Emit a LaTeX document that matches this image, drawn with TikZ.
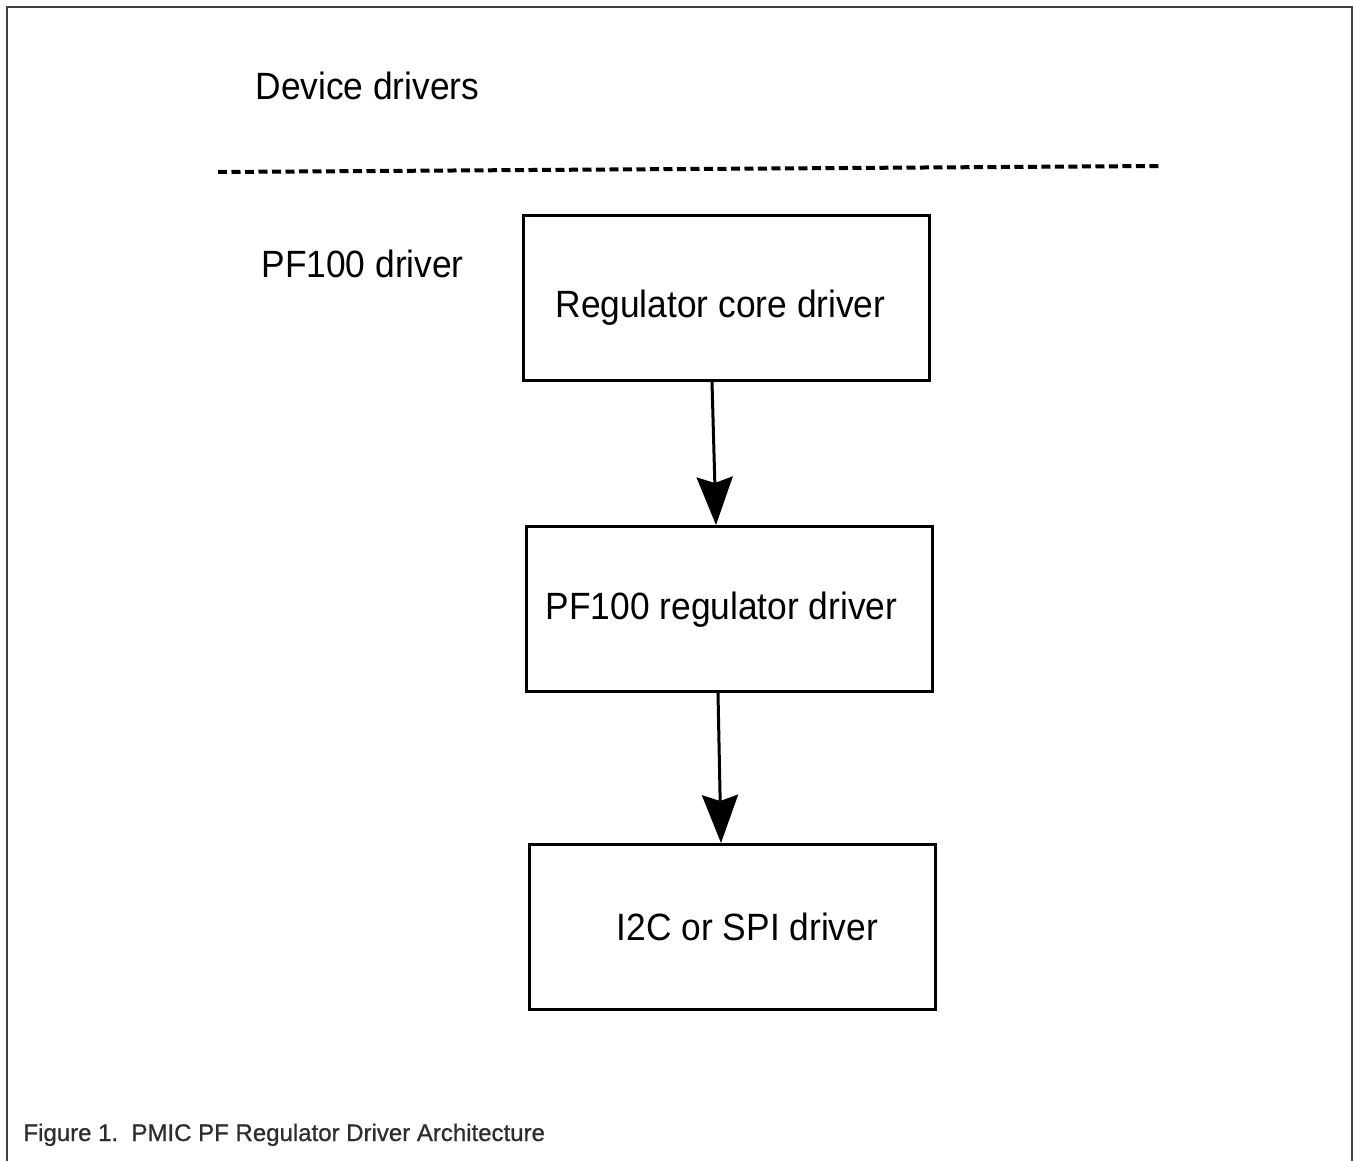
\documentclass[tikz,border=0pt]{standalone}
\usepackage{fontspec}
\setmainfont{Liberation Sans}
\newfontfamily\boxfont[FakeStretch=0.93]{Liberation Sans}
\newfontfamily\capfont[FakeBold=0.8]{Liberation Sans}
\usepackage{tikz}
\usetikzlibrary{positioning}
\usetikzlibrary{arrows.meta}

\begin{document}
\begin{tikzpicture}[x=1pt,y=-1pt,->,>={Stealth[length=48pt,width=36pt,inset=6pt]},
	line width=3pt,auto,node distance=143pt,
	main node/.style={rectangle,draw,minimum width=406pt,minimum height=165pt,
		inner sep=0pt,text height=27pt,text depth=0pt,font=\boxfont\fontsize{38}{42}\selectfont},
	side label/.style={anchor=base west,inner sep=0pt,font=\boxfont\fontsize{38}{42}\selectfont}]
	
	\definecolor{framegray}{RGB}{64,64,64}
	\definecolor{captiongray}{RGB}{45,45,45}
	
	\useasboundingbox (0,0) rectangle (1353,1161);
	\draw[-,line width=2.5pt,framegray] (7,1161) -- (7,7) -- (1352,7) -- (1352,1161);
	
	\node[side label] (dev) at (254,100) {Device drivers};
	\draw[-,dash pattern=on 9pt off 4.5pt,line width=4pt] (218,172) -- (1160,166);
	\node[side label] (pf) at (260,278) {PF100 driver};
	
	\node[main node,text height=40pt] (core) at (726.5,298) {\hspace*{-12pt}Regulator core driver};
	\node[main node,text height=21pt] (pfreg) [below=143pt of core,xshift=3pt] {\hspace*{-16pt}PF100 regulator driver};
	\node[main node] (bus) [below=150pt of pfreg,xshift=3pt] {\hspace*{30pt}I2C or SPI driver};
	
	\draw ([xshift=-14.5pt]core.south) -- ([xshift=-13.5pt]pfreg.north);
	\draw ([xshift=-11.5pt]pfreg.south) -- ([xshift=-11.5pt]bus.north);
	
	\node[anchor=base west,inner sep=0pt,text=captiongray,font=\capfont\fontsize{24}{28}\selectfont]
		(cap) at (22,1141) {Figure 1.\ \ PMIC PF Regulator Driver Architecture};
\end{tikzpicture}
\end{document}
